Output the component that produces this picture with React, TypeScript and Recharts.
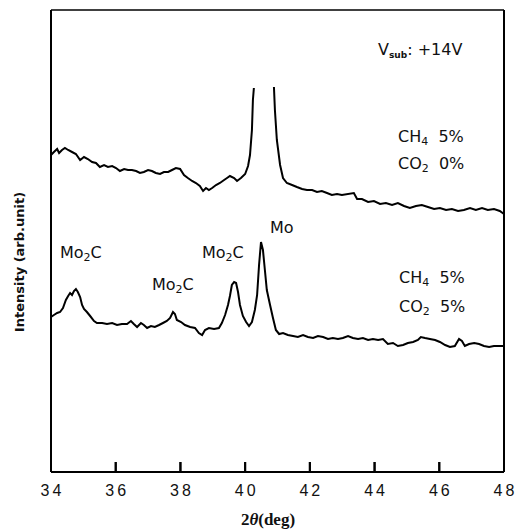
import React from 'react';
import { LineChart, Line, XAxis, YAxis, ReferenceLine } from 'recharts';

// 2θ (deg) and intensity (arb. unit)
const upperX = [34.00,34.09,34.19,34.25,34.34,34.43,34.53,34.65,34.77,34.90,35.02,35.14,35.27,35.39,35.51,35.64,35.76,35.89,36.01,36.13,36.26,36.38,36.50,36.63,36.75,36.87,37.00,37.12,37.24,37.37,37.49,37.62,37.74,37.86,37.99,38.11,38.23,38.36,38.48,38.60,38.70,38.79,38.88,38.98,39.10,39.22,39.35,39.44,39.53,39.66,39.75,39.87,40.00,40.09,40.15,40.21,40.24,40.27,40.58,40.89,40.92,40.98,41.08,41.17,41.29,41.45,41.60,41.76,41.91,42.07,42.22,42.37,42.53,42.68,42.84,42.99,43.36,43.46,43.61,43.80,43.98,44.17,44.35,44.54,44.72,44.91,45.09,45.28,45.46,45.65,45.84,46.02,46.21,46.39,46.58,46.76,46.95,47.13,47.32,47.50,47.69,47.87,48.00];
const upperY: (number | null)[] = [317,320,323,319,322,324,322,320,318,312,315,313,310,309,305,307,305,306,304,301,303,302,302,301,299,300,302,301,299,298,300,300,302,304,303,297,294,291,289,286,281,284,282,284,287,289,292,294,296,294,291,294,298,306,317,342,372,384,null,385,362,332,307,294,289,287,285,283,282,282,280,281,279,277,278,277,279,273,273,270,271,268,269,267,269,266,264,266,267,265,263,264,262,263,261,262,264,262,264,262,263,261,258];

const lowerX = [34.00,34.09,34.19,34.28,34.37,34.46,34.53,34.59,34.65,34.71,34.77,34.83,34.90,34.96,35.02,35.11,35.21,35.33,35.42,35.58,35.73,35.89,36.04,36.19,36.35,36.47,36.56,36.66,36.78,36.87,36.97,37.09,37.21,37.34,37.46,37.58,37.68,37.77,37.83,37.89,38.02,38.14,38.30,38.45,38.57,38.67,38.76,38.88,39.04,39.19,39.28,39.38,39.47,39.53,39.59,39.66,39.72,39.78,39.84,39.93,40.03,40.12,40.21,40.30,40.37,40.43,40.49,40.55,40.61,40.67,40.77,40.86,40.95,41.05,41.17,41.32,41.48,41.63,41.79,41.94,42.10,42.25,42.41,42.56,42.71,42.87,43.02,43.18,43.33,43.49,43.64,43.80,43.95,44.11,44.26,44.41,44.57,44.72,44.88,45.03,45.19,45.34,45.43,45.56,45.71,45.87,46.02,46.18,46.33,46.48,46.61,46.70,46.79,46.92,47.08,47.23,47.38,47.54,47.69,47.84,48.00];
const lowerY = [155,157,159,160,164,172,176,179,177,181,183,180,175,167,163,160,156,151,149,149,148,149,147,148,148,151,148,145,149,147,144,146,145,147,149,151,154,160,158,152,150,147,145,144,139,137,142,144,143,144,149,157,167,176,187,190,189,180,167,156,150,146,150,162,177,207,230,222,202,182,167,154,142,138,139,137,136,135,137,135,134,136,135,133,134,133,134,136,134,133,134,132,133,132,133,128,129,126,127,129,130,132,135,134,133,132,130,127,125,126,133,131,126,128,129,128,126,125,126,126,126];

const xTicks = [34, 36, 38, 40, 42, 44, 46, 48];
const X_MIN = 34;
const X_MAX = 48;
const Y_MAX = 462;
const TICK_LEN = 10;

const upperData = upperX.map((x, i) => ({ x, y: upperY[i] }));
const lowerData = lowerX.map((x, i) => ({ x, y: lowerY[i] }));

const W = 517;
const H = 529;
const ANN_FONT = '"DejaVu Sans", sans-serif';

const InwardTick = (props: any) => {
  const { x, y, payload } = props;
  return (
    <g>
      <line x1={x} y1={y} x2={x} y2={y - TICK_LEN} stroke="#000" strokeWidth={2} />
      <text
        x={x + 1.5}
        y={y + 24}
        textAnchor="middle"
        fontFamily='"Liberation Sans", Arial, sans-serif'
        fontSize={16}
        letterSpacing={3}
        fill="#111"
      >
        {payload.value}
      </text>
    </g>
  );
};

const Sub = ({ children, size = 11 }: { children: React.ReactNode; size?: number }) => (
  <tspan fontSize={size} dy={3}>{children}</tspan>
);

export default function App() {
  return (
    <div style={{ position: 'absolute', left: 0, top: 0, width: W, height: H, background: '#fff' }}>
      <svg
        width={W}
        height={H}
        style={{ position: 'absolute', left: 0, top: 0, pointerEvents: 'none' }}
      >
        <g fontFamily={ANN_FONT} fontSize={16} fill="#111">
          <text x={378} y={55}>
            V<tspan fontSize={9} fontWeight="bold" dy={3}>sub</tspan>
            <tspan dy={-3}>: +14V</tspan>
          </text>
          <text x={398} y={142}>
            CH<Sub>4</Sub><tspan dy={-3}>{'\u00a0\u00a05%'}</tspan>
          </text>
          <text x={398} y={169}>
            CO<Sub>2</Sub><tspan dy={-3}>{'\u00a0\u00a00%'}</tspan>
          </text>
          <text x={399} y={283}>
            CH<Sub>4</Sub><tspan dy={-3}>{'\u00a0\u00a05%'}</tspan>
          </text>
          <text x={399} y={312}>
            CO<Sub>2</Sub><tspan dy={-3}>{'\u00a0\u00a05%'}</tspan>
          </text>
          <text x={60} y={258}>
            Mo<Sub>2</Sub><tspan dy={-3}>C</tspan>
          </text>
          <text x={152} y={290}>
            Mo<Sub>2</Sub><tspan dy={-3}>C</tspan>
          </text>
          <text x={202} y={258}>
            Mo<Sub>2</Sub><tspan dy={-3}>C</tspan>
          </text>
          <text x={270} y={233}>Mo</text>
        </g>
        <text
          x={19}
          y={262}
          transform="rotate(-90 19 262)"
          textAnchor="middle"
          dominantBaseline="central"
          fontFamily={ANN_FONT}
          fontWeight="bold"
          fontSize={13}
          fill="#111"
        >
          Intensity (arb.unit)
        </text>
        <text
          x={268}
          y={525}
          textAnchor="middle"
          fontFamily='"Liberation Serif", "Times New Roman", serif'
          fontWeight="bold"
          fontSize={17}
          fill="#111"
        >
          2<tspan fontStyle="italic">θ</tspan>(deg)
        </text>
      </svg>
      <div style={{ position: 'absolute', left: 0, top: 0 }}>
        <LineChart
          width={W}
          height={H}
          margin={{ top: 10, right: 13, left: 50, bottom: 0 }}
        >
          <XAxis
            xAxisId="b"
            dataKey="x"
            type="number"
            domain={[X_MIN, X_MAX]}
            ticks={xTicks}
            height={57}
            tickSize={0}
            tickMargin={0}
            tickLine={false}
            tick={<InwardTick />}
            axisLine={{ stroke: '#000', strokeWidth: 2 }}
            interval={0}
          />
          <YAxis
            yAxisId="l"
            type="number"
            domain={[0, Y_MAX]}
            width={1}
            tick={false}
            tickLine={false}
            axisLine={{ stroke: '#000', strokeWidth: 2 }}
          />
          {/* top and right edges of the frame */}
          <ReferenceLine
            xAxisId="b"
            yAxisId="l"
            segment={[{ x: X_MIN, y: Y_MAX }, { x: X_MAX, y: Y_MAX }]}
            stroke="#000"
            strokeWidth={1.5}
            ifOverflow="visible"
          />
          <ReferenceLine
            xAxisId="b"
            yAxisId="l"
            segment={[{ x: X_MAX, y: 0 }, { x: X_MAX, y: Y_MAX }]}
            stroke="#000"
            strokeWidth={2}
            ifOverflow="visible"
          />
          {xTicks.map((t) => (
            <ReferenceLine
              key={t}
              xAxisId="b"
              yAxisId="l"
              segment={[{ x: t, y: 0 }, { x: t, y: TICK_LEN }]}
              stroke="#000"
              strokeWidth={2}
              ifOverflow="visible"
            />
          ))}
          <Line
            xAxisId="b"
            yAxisId="l"
            data={upperData}
            dataKey="y"
            type="linear"
            stroke="#000"
            strokeWidth={2}
            dot={false}
            connectNulls={false}
            isAnimationActive={false}
          />
          <Line
            xAxisId="b"
            yAxisId="l"
            data={lowerData}
            dataKey="y"
            type="linear"
            stroke="#000"
            strokeWidth={2}
            dot={false}
            isAnimationActive={false}
          />
        </LineChart>
      </div>
    </div>
  );
}
